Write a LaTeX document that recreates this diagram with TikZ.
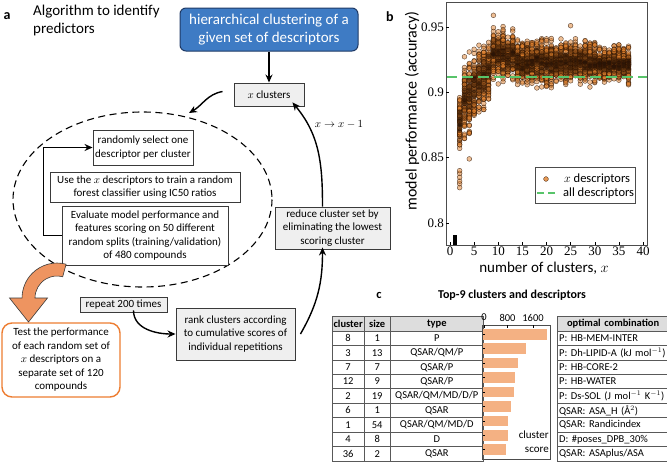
\documentclass[tikz,border=0pt]{standalone}
\usepackage{fontspec}
\setmainfont{Carlito}
\newfontfamily\numfont{Liberation Serif}
\usetikzlibrary{arrows.meta,matrix}
\definecolor{bluefill}{HTML}{3E7BC4}
\definecolor{blueedge}{HTML}{1F3A66}
\definecolor{grayfill}{HTML}{EFEFEF}
\definecolor{boxedge}{HTML}{3A3A3A}
\definecolor{orangeedge}{HTML}{ED7D31}
\definecolor{bigarrow}{HTML}{EE9460}
\definecolor{dotfill}{HTML}{E0802C}
\definecolor{dotedge}{HTML}{2A1201}
\definecolor{corefill}{HTML}{2A1405}
\definecolor{greenline}{HTML}{58C46A}
\definecolor{barfill}{HTML}{F4B183}
\definecolor{headfill}{HTML}{DDDDDD}
\tikzset{
  boxtext/.style={font=\fontsize{11}{13.5}\selectfont, align=center, inner sep=0pt},
  whitebox/.style={boxtext, draw=boxedge, line width=0.9pt, fill=white},
  graybox/.style={boxtext, draw=boxedge, line width=0.9pt, fill=grayfill},
  bluebox/.style={font=\fontsize{15}{18}\selectfont, align=center, text=white, fill=bluefill, draw=blueedge, line width=1pt, rounded corners=6pt, inner sep=0pt},
  testbox/.style={boxtext, draw=orangeedge, line width=1.4pt, rounded corners=10pt, fill=white},
  arr/.style={-{Stealth[length=8pt,width=7pt]}, line width=1.4pt},
  dot/.style={fill=dotfill, fill opacity=0.5, draw=dotedge, draw opacity=0.75, line width=0.4pt},
  coredot/.style={fill=corefill, fill opacity=0.22},
  cellstyle/.style={draw=gray!70!black, line width=0.6pt, inner sep=0pt, minimum height=14.44pt, font=\fontsize{10.5}{12}\selectfont, anchor=center},
  tick/.style={line width=0.5pt, draw=black},
  ticklab/.style={font=\numfont\fontsize{13}{14}\selectfont, inner sep=0pt},
}
\begin{document}
\begin{tikzpicture}[x=1pt,y=-1pt]
\useasboundingbox (0,0) rectangle (667,463);

% ---------------- panel a ----------------
\node[font=\bfseries\fontsize{14}{15}\selectfont, inner sep=0pt] (la) at (7,16) {a};
\node[anchor=north west, align=left, inner sep=0pt, font=\fontsize{15}{18}\selectfont] (title) at (33,5) {Algorithm to identify\\predictors};

\node[bluebox, minimum width=178pt, minimum height=43pt] (hc) at (269,29.5) {hierarchical clustering of a\\given set of descriptors};
\node[graybox, minimum width=70pt, minimum height=23pt] (clu) at (269,94.5) {$x$ clusters};

\draw[dashed, dash pattern=on 7pt off 4.5pt, line width=1.1pt] (142.5,199.5) ellipse [x radius=129.5, y radius=87.5];
\coordinate (elltop) at (189,113);

\node[whitebox, minimum width=100pt, minimum height=35pt] (rnd) at (143,147.5) {randomly select one\\descriptor per cluster};
\node[whitebox, minimum width=190pt, minimum height=30pt] (use) at (145,187) {Use the $x$ descriptors to train a random\\forest classifier using IC50 ratios};
\node[whitebox, minimum width=166pt, minimum height=59pt] (eval) at (145,235.5) {Evaluate model performance and\\features scoring on 50 different\\random splits (training/validation)\\of 480 compounds};

\draw[arr] (eval.west) -- ++(-18,0) |- (rnd.west);

\node[graybox, minimum width=115pt, minimum height=42pt] (red) at (332.5,228) {reduce cluster set by\\eliminating the lowest\\scoring cluster};
\node[graybox, minimum width=119pt, minimum height=52pt] (rank) at (235.5,334) {rank clusters according\\to cumulative scores of\\individual repetitions};
\node[graybox, minimum width=87pt, minimum height=15pt] (rep) at (123.5,304.5) {repeat 200 times};
\node[testbox, minimum width=118pt, minimum height=74pt] (test) at (61,360) {Test the performance\\of each random set of\\$x$ descriptors on a\\separate set of 120\\compounds};

\draw[arr] (hc.south) -- (clu.north);
\draw[arr] ([xshift=-11pt,yshift=3pt]clu.west) to[out=190,in=30] (elltop);
\draw[arr] ([xshift=-10pt]red.north) to[out=90,in=-50] ([xshift=-12pt,yshift=4pt]clu.south east);
\node[font=\fontsize{10.5}{12}\selectfont, inner sep=0pt] (xlab) at (339,124) {$x\rightarrow x-1$};
\draw[arr] ([xshift=5pt]rank.east) to[out=60,in=-90] ([xshift=-10pt,yshift=2pt]red.south);
\draw[arr] ([xshift=10pt,yshift=2pt]rep.south) to[out=-90,in=180] (rank.west);

% big orange arrow
\fill[bigarrow, draw=boxedge, line width=0.6pt]
  (66.1,264.2) arc[start angle=-75, end angle=-180, radius=35]
  -- (9.5,298) -- (28.5,322) -- (47.5,298) -- (35,298)
  arc[start angle=-180, end angle=-75, radius=22] -- cycle;

% ---------------- panel b ----------------
\node[font=\bfseries\fontsize{14}{15}\selectfont, inner sep=0pt] (lb) at (390,17) {b};
\begin{scope}
\clip (446,2) rectangle (647,245);
\pgfmathsetseed{11}
\foreach \cx/\m/\s/\n in {2/0.876/0.010/60, 3/0.895/0.012/70, 4/0.898/0.014/70, 5/0.905/0.012/70, 6/0.910/0.012/70, 7/0.912/0.011/70, 8/0.916/0.011/70, 9/0.929/0.009/70, 10/0.930/0.009/70, 11/0.928/0.009/70, 12/0.928/0.008/70, 13/0.927/0.008/70, 14/0.925/0.008/70, 15/0.922/0.008/70, 16/0.922/0.008/70, 17/0.922/0.008/70, 18/0.923/0.008/70, 19/0.922/0.008/70, 20/0.922/0.008/70, 21/0.923/0.008/70, 22/0.922/0.007/70, 23/0.923/0.007/70, 24/0.922/0.007/70, 25/0.923/0.007/70, 26/0.923/0.007/70, 27/0.923/0.007/70, 28/0.923/0.007/70, 29/0.922/0.007/70, 30/0.922/0.007/70, 31/0.921/0.006/70, 32/0.921/0.006/70, 33/0.921/0.006/70, 34/0.921/0.006/70, 35/0.921/0.006/70, 36/0.921/0.006/70, 37/0.921/0.006/70} {
  \pgfmathsetmacro\px{450+\cx*4.825}
  \foreach \k in {1,...,\n} {
    \pgfmathsetmacro\v{\m+\s*(rand+rand+rand)}
    \pgfmathsetmacro\py{27+(0.95-\v)*1306}
    \filldraw[dot] (\px,\py) circle[radius=2.4];
  }
  \foreach \k in {1,...,30} {
    \pgfmathsetmacro\v{\m+0.55*\s*(rand+rand+rand)}
    \pgfmathsetmacro\py{27+(0.95-\v)*1306}
    \fill[coredot] (\px,\py) circle[radius=2.2];
  }
}
\foreach \v in {0.827,0.830,0.832,0.835,0.838,0.840} {
  \pgfmathsetmacro\py{27+(0.95-\v)*1306}
  \filldraw[dot] (459.65,\py) circle[radius=2.4];
}
\foreach \v in {0.849} {
  \pgfmathsetmacro\py{27+(0.95-\v)*1306}
  \filldraw[dot] (469.3,\py) circle[radius=2.4];
}
\filldraw[dot] (570.6,25.7) circle[radius=2.4];
\filldraw[dot] (493.4,15.3) circle[radius=2.4];
\fill[black] (452.5,235) rectangle (457,245);
\draw[greenline, line width=1.6pt, dash pattern=on 11pt off 5pt] (446,77) -- (647,77);
\end{scope}
\draw[gray!60!black, line width=0.8pt] (446,2) rectangle (647,245);
% y ticks
\foreach \v/\t in {0.95/0.95, 0.9/0.9, 0.85/0.85, 0.8/0.8} {
  \pgfmathsetmacro\py{27+(0.95-\v)*1306}
  \draw[tick] (446,\py) -- (449,\py);
  \node[ticklab, anchor=east] at (444,\py) {\t};
}
% x ticks
\foreach \xv in {0,5,...,40} {
  \pgfmathsetmacro\px{450+\xv*4.825}
  \draw[tick] (\px,245) -- (\px,242);
  \node[ticklab, anchor=north] at (\px,246.5) {\xv};
}
\node[rotate=90, font=\fontsize{16}{18}\selectfont, inner sep=0pt] (ylab) at (412,111) {model performance (accuracy)};
\node[font=\fontsize{15}{17}\selectfont, inner sep=0pt] (xlabel) at (544,268) {number of clusters, $x$};
% legend
\node[draw=gray!60!black, line width=0.7pt, fill=white, minimum width=100pt, minimum height=36pt, inner sep=0pt] (leg) at (585,185) {};
\filldraw[dot, fill opacity=0.8] (546,179) circle[radius=2.4];
\node[anchor=west, font=\fontsize{12.5}{14}\selectfont, inner sep=0pt] (leg1) at (564,179) {$x$ descriptors};
\draw[greenline, line width=1.6pt, dash pattern=on 7pt off 4pt] (537,193) -- (556,193);
\node[anchor=west, font=\fontsize{12.5}{14}\selectfont, inner sep=0pt] (leg2) at (563,193) {all descriptors};

% ---------------- panel c ----------------
\node[font=\bfseries\fontsize{12.5}{14}\selectfont, inner sep=0pt] (lc) at (379,295) {c};
\node[font=\bfseries\fontsize{12}{14}\selectfont, inner sep=0pt] (ctitle) at (512,295) {Top-9 clusters and descriptors};

\matrix (t1) [matrix of nodes, anchor=north west, row sep=-0.6pt, column sep=-0.6pt,
  nodes={cellstyle},
  column 1/.style={nodes={minimum width=32.6pt}},
  column 2/.style={nodes={minimum width=25.6pt}},
  column 3/.style={nodes={minimum width=93.6pt}},
  row 1/.style={nodes={fill=headfill, font=\bfseries\fontsize{10.5}{12}\selectfont}}]
  at (328,312.7) {
  cluster & size & type \\
  8 & 1 & P \\
  3 & 13 & QSAR/QM/P \\
  7 & 7 & QSAR/P \\
  12 & 9 & QSAR/P \\
  2 & 19 & QSAR/QM/MD/D/P \\
  6 & 1 & QSAR \\
  1 & 54 & QSAR/QM/MD/D \\
  4 & 8 & D \\
  36 & 2 & QSAR \\
};

\matrix (t2) [matrix of nodes, anchor=north west, row sep=-0.6pt, column sep=-0.6pt,
  nodes={cellstyle, minimum width=112.6pt, text width=108pt, align=left},
  row 1/.style={nodes={fill=headfill, font=\bfseries\fontsize{10.5}{12}\selectfont, align=center}}]
  at (553,312.7) {
  optimal combination \\
  P: HB-MEM-INTER \\
  P: Dh-LIPID-A (kJ mol$^{-1}$) \\
  P: HB-CORE-2 \\
  P: HB-WATER \\
  P: Ds-SOL (J mol$^{-1}$ K$^{-1}$) \\
  QSAR: ASA\_H (Å$^2$) \\
  QSAR: Randicindex \\
  D: \#poses\_DPB\_30\% \\
  QSAR: ASAplus/ASA \\
};

% bar chart
\foreach \r/\e in {1/547, 2/526, 3/518, 4/515, 5/514, 6/511, 7/508, 8/508, 9/506} {
  \pgfmathsetmacro\cy{327+14.44*(\r-0.5)}
  \fill[barfill] (483,\cy-5.3) rectangle (\e,\cy+5.3);
  \draw[tick] (482,\cy) -- (485,\cy);
}
\draw[gray!60!black, line width=0.8pt] (482,325) rectangle (550,459);
\foreach \xv/\px in {0/484, 800/507.5, 1600/533} {
  \draw[tick] (\px,325) -- (\px,328);
  \node[font=\fontsize{10.5}{12}\selectfont, inner sep=0pt] at (\px,317.5) {\xv};
}
\node[anchor=east, font=\fontsize{11}{12}\selectfont, inner sep=0pt] (cs1) at (549,435) {cluster};
\node[anchor=east, font=\fontsize{11}{12}\selectfont, inner sep=0pt] (cs2) at (549,449.5) {score};
\end{tikzpicture}
\end{document}
